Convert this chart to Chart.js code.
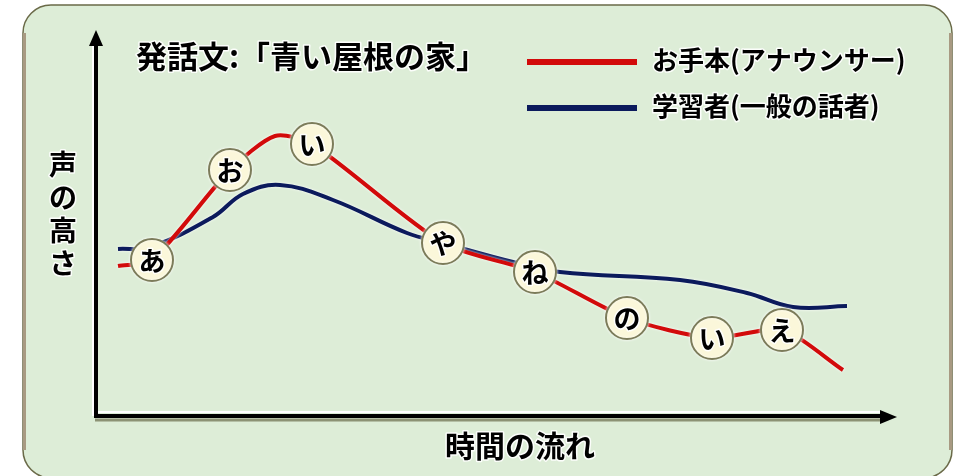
<!DOCTYPE html>
<html lang="ja">
<head>
<meta charset="utf-8">
<title>発話文「青い屋根の家」</title>
<script src="https://cdn.jsdelivr.net/npm/chart.js@4/dist/chart.umd.min.js"></script>
<style>
  html, body { margin: 0; padding: 0; background: #fff; }
  #wrap { width: 961px; height: 476px; }
</style>
</head>
<body>
<div id="wrap"><canvas id="pitchChart" width="961" height="476"></canvas></div>
<script>
// 文字
const titleText = '発話文:「青い屋根の家」';
const yAxisLabel = '声の高さ';
const xAxisLabel = '時間の流れ';
const seriesNames = ['お手本(アナウンサー)', '学習者(一般の話者)'];

// お手本（アナウンサー）: 時間と声の高さ
const modelTime  = [21, 55, 133, 178, 215, 346, 438, 530, 615, 685, 746];
const modelPitch = [151, 157, 247, 281, 273, 174, 145, 99, 79, 87, 47];
const moraLabels = ['', 'あ', 'お', '', 'い', 'や', 'ね', 'の', 'い', 'え', ''];

// 学習者（一般の話者）
const learnerTime  = [21, 53, 116, 146, 183, 236, 310, 346, 416, 463, 583, 650, 696, 750];
const learnerPitch = [168, 170, 200, 223, 232, 217, 184, 174, 155, 145, 137, 124, 110, 111];

const FONT = '"Noto Sans CJK JP", "Noto Sans CJK SC", sans-serif';
const RED = '#d20a0a';
const NAVY = '#0b1a5c';

function toPoints(xs, ys) {
  return xs.map((x, i) => ({ x: x, y: ys[i] }));
}

// 白いふち付きの文字
function haloText(ctx, text, x, y) {
  ctx.lineJoin = 'round';
  ctx.lineWidth = 3;
  ctx.strokeStyle = 'rgba(255,255,255,0.9)';
  ctx.strokeText(text, x, y);
  ctx.fillStyle = '#000';
  ctx.fillText(text, x, y);
}

function roundRect(ctx, x, y, w, h, r) {
  ctx.beginPath();
  ctx.moveTo(x + r, y);
  ctx.lineTo(x + w - r, y);
  ctx.arcTo(x + w, y, x + w, y + r, r);
  ctx.lineTo(x + w, y + h - r);
  ctx.arcTo(x + w, y + h, x + w - r, y + h, r);
  ctx.lineTo(x + r, y + h);
  ctx.arcTo(x, y + h, x, y + h - r, r);
  ctx.lineTo(x, y + r);
  ctx.arcTo(x, y, x + r, y, r);
  ctx.closePath();
}

// 背景パネル
const panelPlugin = {
  id: 'panel',
  beforeDraw(chart) {
    const ctx = chart.ctx;
    ctx.save();
    ctx.fillStyle = '#fff';
    ctx.fillRect(0, 0, chart.width, chart.height);
    roundRect(ctx, 23, 5, 929, 473, 28);
    ctx.fillStyle = '#ddedd7';
    ctx.fill();
    ctx.lineWidth = 1.5;
    ctx.strokeStyle = '#6a6a48';
    ctx.stroke();
    // 左右のふち
    ctx.strokeStyle = '#a89a82';
    ctx.lineWidth = 3;
    ctx.beginPath();
    ctx.moveTo(24.5, 33); ctx.lineTo(24.5, 450);
    ctx.moveTo(950.5, 33); ctx.lineTo(950.5, 450);
    ctx.stroke();
    ctx.restore();
  }
};

// 軸と矢印
const axesPlugin = {
  id: 'arrowAxes',
  beforeDatasetsDraw(chart) {
    const ctx = chart.ctx;
    const a = chart.chartArea;
    const x0 = a.left;
    const yb = a.bottom - 1;
    ctx.save();
    // 白いふち
    ctx.strokeStyle = '#ffffff';
    ctx.lineWidth = 2;
    ctx.beginPath();
    ctx.moveTo(x0 - 4, yb); ctx.lineTo(x0 - 4, a.top + 14);
    ctx.moveTo(x0, yb - 4); ctx.lineTo(a.right - 16, yb - 4);
    ctx.stroke();
    // 影
    ctx.strokeStyle = '#8c9274';
    ctx.lineWidth = 3;
    ctx.beginPath();
    ctx.moveTo(x0 - 2, yb + 4); ctx.lineTo(a.right - 14, yb + 4);
    ctx.stroke();
    // 黒い軸
    ctx.strokeStyle = '#000';
    ctx.lineWidth = 4;
    ctx.beginPath();
    ctx.moveTo(x0 - 1, yb + 2); ctx.lineTo(x0 - 1, a.top + 14);
    ctx.moveTo(x0 - 3, yb); ctx.lineTo(a.right - 14, yb);
    ctx.stroke();
    ctx.fillStyle = '#000';
    ctx.beginPath();
    ctx.moveTo(x0 - 1, a.top + 3);
    ctx.lineTo(x0 - 8, a.top + 19);
    ctx.lineTo(x0 + 6, a.top + 19);
    ctx.closePath();
    ctx.fill();
    ctx.beginPath();
    ctx.moveTo(a.right, yb + 1);
    ctx.lineTo(a.right - 17, yb - 6);
    ctx.lineTo(a.right - 17, yb + 8);
    ctx.closePath();
    ctx.fill();
    ctx.restore();
  }
};

// 線のまわりの白いにじみ
const glowPlugin = {
  id: 'glow',
  beforeDatasetDraw(chart) {
    chart.ctx.save();
    chart.ctx.shadowColor = 'rgba(255,255,255,0.95)';
    chart.ctx.shadowBlur = 3;
  },
  afterDatasetDraw(chart) {
    chart.ctx.restore();
  }
};

// 文字（題、凡例、軸名、拍）
const textPlugin = {
  id: 'texts',
  afterDatasetsDraw(chart) {
    const ctx = chart.ctx;
    ctx.save();
    ctx.textBaseline = 'middle';

    // 拍のラベル
    ctx.textAlign = 'center';
    ctx.font = 'bold 27px ' + FONT;
    chart.getDatasetMeta(0).data.forEach((pt, i) => {
      if (moraLabels[i]) haloText(ctx, moraLabels[i], pt.x, pt.y + 1);
    });

    // 題
    ctx.textAlign = 'left';
    ctx.font = 'bold 31px ' + FONT;
    haloText(ctx, titleText, 136, 56);

    // 凡例
    ctx.font = 'bold 26px ' + FONT;
    const rows = [62, 108];
    chart.data.datasets.forEach((ds, i) => {
      const y = rows[i];
      ctx.strokeStyle = ds.borderColor;
      ctx.lineWidth = 6;
      ctx.beginPath();
      ctx.moveTo(527, y);
      ctx.lineTo(637, y);
      ctx.stroke();
      haloText(ctx, ds.label, 652, y - 2);
    });

    // 縦軸の名前（縦書き）
    ctx.textAlign = 'center';
    ctx.font = 'bold 28px ' + FONT;
    Array.from(yAxisLabel).forEach((ch, i) => {
      haloText(ctx, ch, 63, 164 + i * 33);
    });

    // 横軸の名前
    ctx.font = 'bold 30px ' + FONT;
    haloText(ctx, xAxisLabel, 520, 446);
    ctx.restore();
  }
};

const chart = new Chart(document.getElementById('pitchChart'), {
  type: 'line',
  data: {
    datasets: [
      {
        label: seriesNames[0],
        data: toPoints(modelTime, modelPitch),
        borderColor: RED,
        borderWidth: 4,
        tension: 0.25,
        pointRadius: c => (moraLabels[c.dataIndex] ? 21 : 0),
        pointHoverRadius: c => (moraLabels[c.dataIndex] ? 21 : 0),
        pointBackgroundColor: '#fbf7da',
        pointBorderColor: '#7c7c5a',
        pointBorderWidth: 2
      },
      {
        label: seriesNames[1],
        data: toPoints(learnerTime, learnerPitch),
        borderColor: NAVY,
        borderWidth: 4,
        tension: 0.4,
        pointRadius: 0,
        pointHoverRadius: 0
      }
    ]
  },
  options: {
    responsive: false,
    animation: false,
    events: [],
    layout: { padding: { left: 97, right: 64, top: 27, bottom: 59 } },
    scales: {
      x: { type: 'linear', min: 0, max: 800, display: false },
      y: { type: 'linear', min: 0, max: 390, display: false }
    },
    plugins: {
      legend: { display: false },
      tooltip: { enabled: false }
    }
  },
  plugins: [panelPlugin, axesPlugin, glowPlugin, textPlugin]
});
</script>
</body>
</html>
